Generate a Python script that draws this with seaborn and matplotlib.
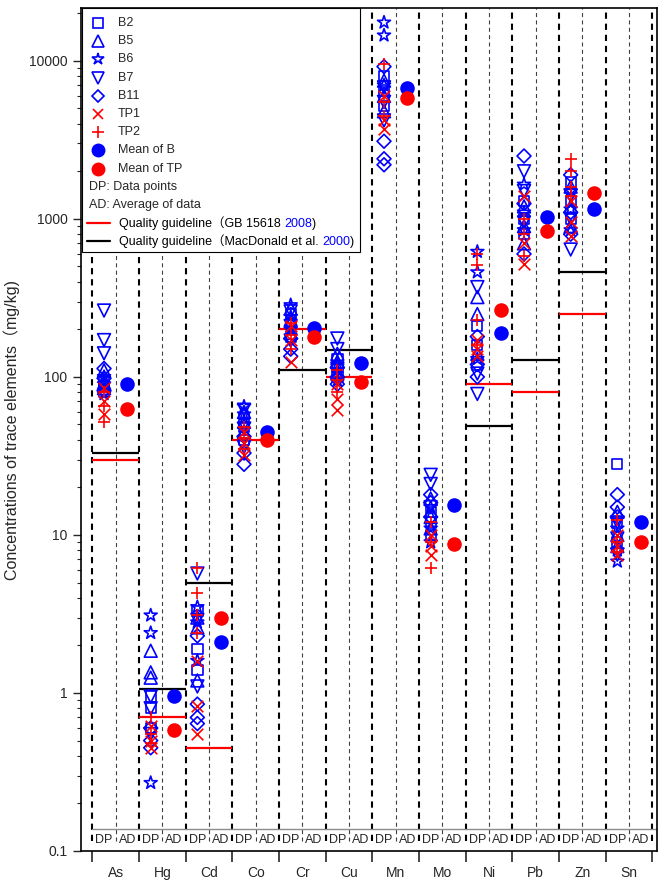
import numpy as np
import pandas as pd
import matplotlib
matplotlib.use("Agg")
import matplotlib.pyplot as plt
from matplotlib.patches import Rectangle
from matplotlib.lines import Line2D
from matplotlib.ticker import FuncFormatter, LogLocator
import seaborn as sns

elements = ["As", "Hg", "Cd", "Co", "Cr", "Cu", "Mn", "Mo", "Ni", "Pb", "Zn", "Sn"]

# data points (mg/kg), one list per element
b2 = [[95, 88, 80], [0.95, 0.8, 0.6], [3.3, 1.9, 1.4], [55, 48, 40], [250, 220, 180],
      [130, 115, 100], [8000, 6500, 5200], [14, 12, 10], [210, 160, 120],
      [1300, 1000, 800], [1700, 1300, 1000], [28, 12, 9]]
b5 = [[110, 92, 85], [1.85, 1.35, 1.25], [3.0, 2.6, 1.2], [60, 52, 45], [270, 230, 190],
      [140, 125, 105], [7500, 6000, 4800], [17, 13, 11], [320, 250, 140],
      [1200, 900, 700], [1600, 1200, 900], [14, 10, 8.5]]
b6 = [[100, 90, 78], [3.1, 2.4, 0.27], [3.5, 2.8, 1.6], [65, 58, 50], [285, 240, 200],
      [120, 110, 95], [17500, 14500, 7000], [15, 11, 9], [620, 460, 130],
      [1650, 1100, 850], [1500, 1150, 850], [11, 8, 6.8]]
b7 = [[263, 171, 141], [0.95, 0.8, 0.55], [5.7, 2.9, 1.1], [62, 47, 36], [260, 210, 170],
      [175, 150, 110], [6800, 5500, 4200], [24, 21, 15], [370, 105, 78],
      [2000, 1500, 950], [1400, 1000, 640], [12, 9.5, 7.5]]
b11 = [[113, 98, 82], [0.6, 0.5, 0.45], [2.3, 0.85, 0.7, 0.64], [42, 33, 28], [175, 150, 135],
       [115, 100, 90], [9200, 3100, 2400, 2200], [18, 16, 13], [180, 120, 100],
       [2500, 1250, 600], [1900, 1100, 800], [18, 15, 13]]
tp1 = [[85, 70, 58], [0.62, 0.5, 0.45], [1.6, 0.83, 0.55], [45, 38, 32], [210, 170, 125],
       [90, 72, 62], [6000, 4200, 3700], [10, 8.5, 7.5], [170, 150, 135],
       [1400, 700, 520], [1300, 950, 780], [10, 8.5, 7.5]]
tp2 = [[80, 65, 52], [0.7, 0.55, 0.48], [6.2, 4.3, 3.1, 2.4], [48, 41, 35], [220, 185, 150],
       [110, 95, 80], [9500, 5500, 4500], [12, 9, 6.2], [600, 510, 230, 160],
       [1000, 800, 580], [2400, 2000, 1600, 1400], [12.5, 9, 7.8]]

mean_b = [90, 0.95, 2.1, 45, 205, 122, 6700, 15.5, 190, 1030, 1150, 12]
mean_tp = [63, 0.58, 3.0, 40, 180, 93, 5800, 8.8, 265, 840, 1450, 9.0]

# quality guidelines (nan = no guideline)
gb_guide = [30, 0.7, 0.45, 40, 200, 100, np.nan, np.nan, 90, 80, 250, np.nan]
macd_guide = [33, 1.06, 4.98, np.nan, 111, 149, np.nan, np.nan, 48.6, 128, 459, np.nan]

series_names = ["B2", "B5", "B6", "B7", "B11", "TP1", "TP2"]
series_vals = [b2, b5, b6, b7, b11, tp1, tp2]
series_markers = ["s", "^", "*", "v", "D", "x", "+"]
series_colors = ["blue"] * 5 + ["red"] * 2
series_sizes = [55, 85, 95, 85, 50, 70, 85]

rows = []
for name, vals in zip(series_names, series_vals):
    for i, el_vals in enumerate(vals):
        for v in el_vals:
            rows.append((name, i + 0.25, v))
df = pd.DataFrame(rows, columns=["series", "x", "value"])

sns.set_style("ticks")
plt.rcParams["font.family"] = ["Liberation Sans", "Noto Sans CJK SC"]
plt.rcParams["lines.scale_dashes"] = False

W, H = 658, 881
fig = plt.figure(figsize=(W / 100, H / 100), dpi=100)
ax = fig.add_axes([80.7 / W, (H - 851) / H, (657 - 80.7) / W, (851 - 8) / H])
ax.set_yscale("log")
ax.set_ylim(0.1, 21600)
ax.set_xlim(-0.25, 12.1)

# column separators
for i in range(13):
    ax.axvline(i, ymin=0.012, ymax=1, color="black", lw=1.5,
               ls=(0, (4.5, 3.5)), zorder=1)
for i in range(12):
    ax.axvline(i + 0.5, ymin=0.012, ymax=1, color="0.25", lw=0.8,
               ls=(0, (2.9, 2.4)), zorder=1)
ax.plot([0, 12.1], [0.026, 0.026], color="0.55", lw=1,
        transform=ax.get_xaxis_transform(), zorder=1)
for i in range(12):
    ax.text(i + 0.25, 0.013, "DP", transform=ax.get_xaxis_transform(),
            ha="center", va="center", fontsize=9)
    ax.text(i + 0.75, 0.013, "AD", transform=ax.get_xaxis_transform(),
            ha="center", va="center", fontsize=9)

# guideline lines
for i in range(12):
    if not np.isnan(macd_guide[i]):
        ax.hlines(macd_guide[i], i, i + 1, color="black", lw=1.6, zorder=2)
    if not np.isnan(gb_guide[i]):
        ax.hlines(gb_guide[i], i, i + 1, color="red", lw=1.6, zorder=2)

# data points
for name, m, c, s in zip(series_names, series_markers, series_colors, series_sizes):
    sub = df[df["series"] == name]
    if m in ("x", "+"):
        sns.scatterplot(data=sub, x="x", y="value", marker=m, s=s, color=c,
                        linewidth=1.2, ax=ax, legend=False, zorder=3)
    else:
        sns.scatterplot(data=sub, x="x", y="value", marker=m, s=s, color=c,
                        facecolors="none", edgecolor=c, linewidth=1.2,
                        ax=ax, legend=False, zorder=3)

means = pd.DataFrame({"x": np.arange(12) + 0.75, "b": mean_b, "tp": mean_tp})
sns.scatterplot(data=means, x="x", y="b", marker="o", s=110, color="blue",
                linewidth=0, ax=ax, legend=False, zorder=3)
sns.scatterplot(data=means, x="x", y="tp", marker="o", s=110, color="red",
                linewidth=0, ax=ax, legend=False, zorder=3)

# axes styling
ax.set_xlabel("")
ax.set_ylabel("Concentrations of trace elements（mg/kg)", fontsize=11.5)
ax.yaxis.set_label_coords(-0.105, 0.5)
ax.yaxis.set_major_locator(LogLocator(base=10, numticks=10))
ax.yaxis.set_minor_locator(LogLocator(base=10, subs=np.arange(2, 10), numticks=20))
ax.yaxis.set_major_formatter(FuncFormatter(lambda v, p: f"{v:g}"))
ax.tick_params(axis="y", which="major", direction="out", length=6, width=1, labelsize=10)
ax.tick_params(axis="y", which="minor", direction="out", length=3, width=0.8)
ax.set_xticks(list(range(13)))
ax.set_xticklabels([])
ax.set_xticks(np.arange(12) + 0.5, labels=elements, minor=True)
ax.tick_params(axis="x", which="major", direction="out", length=8, width=1.2)
ax.tick_params(axis="x", which="minor", length=0, pad=11, labelsize=10)
for sp in ax.spines.values():
    sp.set_linewidth(1.2)
    sp.set_color("black")


# legend drawn by hand (mixed colour text)
def fx(x):
    return x / W


def fy(y):
    return 1 - y / H


fig.add_artist(Rectangle((fx(81.5), fy(252)), fx(360) - fx(81.5), fy(8) - fy(252),
                         transform=fig.transFigure, fc="white", ec="black",
                         lw=0.8, zorder=10))
leg_y = [23 + 18.2 * k for k in range(13)]
for k, (name, m, c, s) in enumerate(zip(series_names, series_markers,
                                        series_colors, series_sizes)):
    fig.add_artist(Line2D([fx(98)], [fy(leg_y[k])], marker=m, markersize=np.sqrt(s) * 0.9,
                          mfc="none", mec=c, mew=1.2, ls="none",
                          transform=fig.transFigure, zorder=11))
    fig.text(fx(118), fy(leg_y[k]), name, fontsize=9, va="center", zorder=11)
for k, (lab, c) in enumerate([("Mean of B", "blue"), ("Mean of TP", "red")]):
    fig.add_artist(Line2D([fx(98)], [fy(leg_y[7 + k])], marker="o", markersize=10,
                          mfc=c, mec=c, mew=0, ls="none",
                          transform=fig.transFigure, zorder=11))
    fig.text(fx(118), fy(leg_y[7 + k]), lab, fontsize=9, va="center", zorder=11)
fig.text(fx(89), fy(leg_y[9]), "DP: Data points", fontsize=9, va="center", zorder=11)
fig.text(fx(89), fy(leg_y[10]), "AD: Average of data", fontsize=9, va="center", zorder=11)

renderer = fig.canvas.get_renderer()
guide_rows = [("red", "Quality guideline（GB 15618", "2008"),
              ("black", "Quality guideline（MacDonald et al.", "2000")]
for k, (c, lab, yr) in enumerate(guide_rows):
    yy = leg_y[11 + k]
    fig.add_artist(Line2D([fx(87), fx(110)], [fy(yy), fy(yy)], color=c, lw=1.6,
                          transform=fig.transFigure, zorder=11))
    x0 = fx(119)
    for piece, pc, gap in [(lab, "black", 3.3), (yr, "blue", 0), (")", "black", 0)]:
        t = fig.text(x0, fy(yy + 3.5), piece, fontsize=9, va="baseline",
                     color=pc, zorder=11)
        bb = t.get_window_extent(renderer)
        x0 = fx(bb.x1 + gap)

fig.savefig("out.png", dpi=100)
